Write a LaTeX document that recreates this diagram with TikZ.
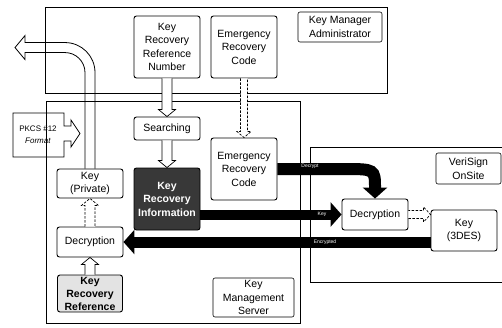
\documentclass[tikz,border=0pt]{standalone}
\usepackage{fontspec}
\setmainfont{Liberation Sans}
\usetikzlibrary{arrows.meta,calc}
\tikzset{
  box/.style={draw, line width=0.9pt, rounded corners=2.5pt, fill=white, align=center, inner sep=1pt, font=\fontsize{10.5}{13.5}\selectfont},
  lbl/.style={draw, line width=0.6pt, rounded corners=2pt, align=center, inner sep=1pt, font=\fontsize{10.5}{13.5}\selectfont},
  frame/.style={line width=0.9pt},
  hol/.style={line width=0.7pt, fill=white},
  holdash/.style={line width=0.7pt, fill=white, dash pattern=on 2.5pt off 1.5pt},
  blk/.style={line width=#1, -{Triangle[length=11pt,width=24pt]}},
  blab/.style={text=white, font=\fontsize{5}{6}\selectfont, inner sep=0pt}
}
\newcommand\hollowV[5]{%
  \filldraw[#5] let \p1=(#1), \p2=(#2) in
  ({\x1-#3},{\y1}) -- ({\x1-#3},{\y2+(#4)}) -- ({\x1-#3-3.5pt},{\y2+(#4)}) -- ({\x1},{\y2})
  -- ({\x1+#3+3.5pt},{\y2+(#4)}) -- ({\x1+#3},{\y2+(#4)}) -- ({\x1+#3},{\y1});}
\newcommand\hollowH[5]{%
  \filldraw[#5] let \p1=(#1), \p2=(#2) in
  ({\x1},{\y1-#3}) -- ({\x2+(#4)},{\y1-#3}) -- ({\x2+(#4)},{\y1-#3-3.5pt}) -- ({\x2},{\y1})
  -- ({\x2+(#4)},{\y1+#3+3.5pt}) -- ({\x2+(#4)},{\y1+#3}) -- ({\x1},{\y1+#3});}
\begin{document}
\begin{tikzpicture}[x=1pt,y=-1pt]
\useasboundingbox (0,0) rectangle (502,327);
% nodes
\node[box, minimum width=66pt, minimum height=62pt] (krrn) at (167,47) {Key\\Recovery\\Reference\\Number};
\node[box, minimum width=66pt, minimum height=62pt] (ercT) at (244,47) {Emergency\\Recovery\\Code};
\node[lbl, minimum width=84pt, minimum height=30pt] (kma) at (340,27) {Key Manager\\Administrator};
\node[box, minimum width=66pt, minimum height=23pt] (search) at (167,128.5) {Searching};
\node[box, minimum width=66pt, minimum height=62pt] (ercM) at (244,169) {Emergency\\Recovery\\Code};
\node[box, fill=black!78, text=white, font=\fontsize{10.5}{13.5}\selectfont\bfseries, minimum width=66pt, minimum height=62pt] (kri) at (167,199) {Key\\Recovery\\Information};
\node[box, minimum width=66pt, minimum height=29pt] (kp) at (90,183.5) {Key\\(Private)};
\node[box, minimum width=66pt, minimum height=30pt] (decL) at (90,242) {Decryption};
\node[box, fill=gray!22, font=\fontsize{10.5}{13}\selectfont\bfseries, minimum width=65pt, minimum height=37pt] (krr) at (90,293.5) {Key\\Recovery\\Reference};
\node[lbl, minimum width=81pt, minimum height=39pt] (kms) at (253.5,297.5) {Key\\Management\\Server};
\node[box, minimum width=66pt, minimum height=31pt] (decR) at (375,214.5) {Decryption};
\node[box, minimum width=66pt, minimum height=41pt] (k3) at (464,230.5) {Key\\(3DES)};
\node[lbl, minimum width=65pt, minimum height=31pt] (vso) at (468.5,168.5) {VeriSign\\OnSite};
\node[align=center, inner sep=0pt, font=\fontsize{8}{12}\selectfont] (pkcs) at (38,135) {PKCS \#12\\\textit{Format}};
\begin{scope}[shift={(pkcs)}]
  \draw[line width=0.8pt] (-25,-22) -- (26,-22) -- (26,-9) -- (33,-9) -- (33,-15) -- (42,-1.5) -- (33,12) -- (33,6) -- (26,6) -- (26,22) -- (-25,22) -- cycle;
\end{scope}
% frames
\draw[frame] (45,7) rectangle (387,93);
\draw[frame] (46,101) rectangle (300,323);
\draw[frame] (502,147) -- (310,147) -- (310,282) -- (502,282);
% hollow arrows
\hollowV{krrn.south}{search.north}{5pt}{7pt}{hol}
\hollowV{search.south}{kri.north}{5pt}{7pt}{hol}
\hollowV{ercT.south}{ercM.north}{3.5pt}{6pt}{holdash}
\hollowV{krr.north}{decL.south}{5pt}{-7pt}{hol}
\hollowV{decL.north}{kp.south}{5pt}{-7pt}{holdash}
\hollowH{decR.east}{k3.west|-decR.east}{4pt}{-7pt}{holdash}
\begin{scope}[shift={(kp.north)}]
  \draw[line width=0.8pt] (5,0) -- (5,-96) .. controls (5,-112.6) and (-8.4,-126) .. (-25,-126)
    -- (-65,-126) -- (-65,-133) -- (-75,-121) -- (-65,-109) -- (-65,-116) -- (-25,-116)
    .. controls (-14,-116) and (-5,-107) .. (-5,-96) -- (-5,0);
\end{scope}
% black arrows
\draw[blk=12pt] (ercM.east) -- ($(decR.north|-ercM.east)+(-32,0)$) .. controls (decR.north|-ercM.east) .. (decR.north);
\draw[blk=10pt] (kri.east|-decR.west) -- (decR.west);
\draw[blk=11pt] (k3.west|-decL.east) -- (decL.east);
\node[blab] (l1) at (310,166) {Decrypt};
\node[blab] (l2) at (322,214.5) {Key};
\node[blab] (l3) at (325,242) {Encrypted};
\end{tikzpicture}
\end{document}
